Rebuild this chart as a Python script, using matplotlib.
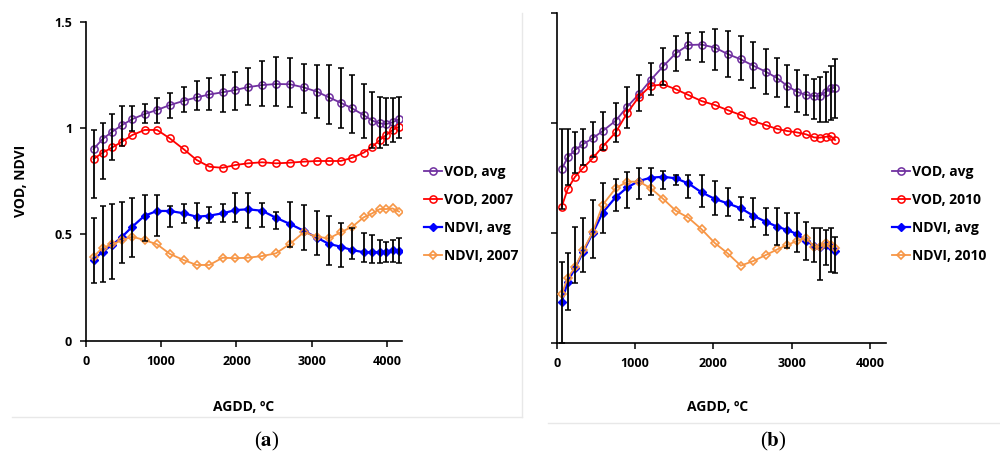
import matplotlib
matplotlib.use("Agg")
import matplotlib.pyplot as plt
import numpy as np
from matplotlib.lines import Line2D

plt.rcParams['font.family'] = ['Open Sans', 'DejaVu Sans']
plt.rcParams['mathtext.fontset'] = 'stix'

# ---------------- Panel (a) data ----------------
agdd_a = [100, 220, 350, 480, 615, 780, 945, 1115, 1300, 1470, 1640, 1815, 1985, 2150,
          2340, 2525, 2710, 2895, 3070, 3230, 3385, 3540, 3690, 3805, 3905, 3990, 4075, 4160]
vod_avg_a = [0.901, 0.948, 0.983, 1.014, 1.042, 1.066, 1.085, 1.108, 1.128, 1.144, 1.158, 1.168, 1.179, 1.192,
             1.202, 1.207, 1.206, 1.191, 1.171, 1.144, 1.119, 1.092, 1.061, 1.035, 1.022, 1.019, 1.027, 1.042]
vod_avg_a_hi = [0.99, 1.022, 1.064, 1.103, 1.103, 1.111, 1.14, 1.166, 1.191, 1.221, 1.237, 1.249, 1.262, 1.281,
                1.317, 1.335, 1.328, 1.301, 1.296, 1.296, 1.281, 1.249, 1.207, 1.171, 1.144, 1.14, 1.14, 1.147]
vod_avg_a_lo = [0.67, 0.76, 0.85, 0.915, 0.986, 1.022, 1.022, 1.046, 1.077, 1.085, 1.085, 1.077, 1.085, 1.11,
                1.105, 1.103, 1.100, 1.069, 1.045, 1.019, 0.998, 0.975, 0.951, 0.905, 0.905, 0.92, 0.933, 0.954]
vod_2007 = [0.854, 0.884, 0.909, 0.936, 0.967, 0.991, 0.991, 0.951, 0.900, 0.850, 0.818, 0.813, 0.826, 0.834,
            0.839, 0.834, 0.837, 0.842, 0.845, 0.845, 0.845, 0.860, 0.884, 0.912, 0.944, 0.967, 0.991, 1.006]
ndvi_avg_a = [0.379, 0.419, 0.450, 0.489, 0.536, 0.588, 0.610, 0.610, 0.599, 0.583, 0.588, 0.599, 0.614, 0.618,
              0.611, 0.578, 0.549, 0.517, 0.484, 0.455, 0.442, 0.426, 0.416, 0.416, 0.416, 0.419, 0.426, 0.423]
ndvi_avg_a_hi = [0.575, 0.635, 0.643, 0.654, 0.670, 0.685, 0.685, 0.635, 0.643, 0.649, 0.630, 0.643, 0.693, 0.693,
                 0.649, 0.607, 0.654, 0.638, 0.611, 0.586, 0.552, 0.528, 0.505, 0.497, 0.473, 0.465, 0.473, 0.484]
ndvi_avg_a_lo = [0.270, 0.277, 0.290, 0.364, 0.392, 0.47, 0.494, 0.536, 0.552, 0.528, 0.552, 0.557, 0.557, 0.531,
                 0.533, 0.525, 0.442, 0.426, 0.403, 0.356, 0.348, 0.384, 0.371, 0.364, 0.364, 0.371, 0.371, 0.364]
ndvi_2007 = [0.395, 0.437, 0.453, 0.473, 0.489, 0.473, 0.453, 0.408, 0.379, 0.356, 0.356, 0.390, 0.388, 0.390,
             0.398, 0.411, 0.455, 0.510, 0.489, 0.481, 0.510, 0.536, 0.580, 0.599, 0.619, 0.619, 0.622, 0.607]

# ---------------- Panel (b) data ----------------
agdd_b = [64, 140, 234, 340, 459, 587, 753, 902, 1051, 1200, 1361, 1519, 1680, 1851,
          2021, 2183, 2349, 2510, 2668, 2817, 2944, 3064, 3183, 3285, 3362, 3438, 3498, 3553]
vod_avg_b = [0.792, 0.845, 0.879, 0.906, 0.932, 0.965, 1.012, 1.076, 1.133, 1.197, 1.26, 1.318, 1.356, 1.358,
             1.344, 1.315, 1.291, 1.262, 1.235, 1.205, 1.17, 1.144, 1.129, 1.124, 1.125, 1.144, 1.159, 1.162]
vod_avg_b_hi = [0.973, 0.973, 0.962, 0.974, 1.007, 1.05, 1.091, 1.166, 1.22, 1.273, 1.344, 1.397, 1.409, 1.416,
                1.429, 1.42, 1.398, 1.371, 1.338, 1.295, 1.265, 1.242, 1.22, 1.201, 1.212, 1.232, 1.262, 1.291]
vod_avg_b_lo = [0.612, 0.72, 0.773, 0.81, 0.848, 0.879, 0.916, 0.977, 1.056, 1.129, 1.174, 1.24, 1.288, 1.28,
                1.242, 1.212, 1.197, 1.159, 1.132, 1.121, 1.075, 1.05, 1.038, 1.018, 1.005, 1.007, 1.015, 1.025]
vod_2010 = [0.621, 0.701, 0.757, 0.798, 0.841, 0.894, 0.959, 1.048, 1.121, 1.17, 1.177, 1.155, 1.129, 1.101,
            1.083, 1.06, 1.038, 1.01, 0.992, 0.974, 0.965, 0.959, 0.95, 0.936, 0.935, 0.939, 0.942, 0.924]
ndvi_avg_b = [0.186, 0.28, 0.341, 0.417, 0.50, 0.594, 0.664, 0.709, 0.738, 0.753, 0.757, 0.75, 0.727, 0.686,
              0.656, 0.636, 0.614, 0.58, 0.553, 0.53, 0.515, 0.497, 0.465, 0.444, 0.439, 0.447, 0.439, 0.421]
ndvi_avg_b_hi = [0.368, 0.409, 0.527, 0.568, 0.651, 0.727, 0.745, 0.78, 0.798, 0.798, 0.783, 0.765, 0.765, 0.765,
                 0.739, 0.705, 0.664, 0.659, 0.617, 0.617, 0.594, 0.591, 0.553, 0.523, 0.525, 0.515, 0.523, 0.485]
ndvi_avg_b_lo = [0.0, 0.151, 0.276, 0.326, 0.386, 0.50, 0.601, 0.614, 0.656, 0.674, 0.701, 0.72, 0.662, 0.621,
                 0.583, 0.58, 0.56, 0.53, 0.492, 0.447, 0.435, 0.417, 0.379, 0.371, 0.288, 0.356, 0.326, 0.318]
ndvi_2010 = [0.223, 0.298, 0.345, 0.424, 0.505, 0.629, 0.705, 0.735, 0.735, 0.705, 0.656, 0.603, 0.571, 0.518,
             0.455, 0.409, 0.353, 0.374, 0.401, 0.427, 0.447, 0.465, 0.48, 0.439, 0.439, 0.455, 0.447, 0.435]

x_ticks = [0, 1000, 2000, 3000, 4000]
y_ticks = [0, 0.5, 1, 1.5]
y_ticklabels = ["0", "0.5", "1", "1.5"]

C_PURPLE = "#7030A0"
C_RED = "#FF0000"
C_BLUE = "#0000FF"
C_ORANGE = "#F79646"

fig = plt.figure(figsize=(10, 4.57), dpi=100)
ax_a = fig.add_axes([0.086, 0.2545, 0.316, 0.698])
ax_b = fig.add_axes([0.5567, 0.2488, 0.329, 0.722])


def draw_panel(ax, x, vavg, vhi, vlo, vyr, navg, nhi, nlo, nyr, year, show_ylabels):
    x = np.asarray(x)
    vavg = np.asarray(vavg); navg = np.asarray(navg)
    kw = dict(lw=1.3, ms=5.2, mew=1.1, zorder=3)
    l1, = ax.plot(x, vavg, color=C_PURPLE, marker='o', mfc='none', mec=C_PURPLE, label='VOD, avg', **kw)
    l2, = ax.plot(x, vyr, color=C_RED, marker='o', mfc='none', mec=C_RED, label='VOD, ' + year, **kw)
    l3, = ax.plot(x, navg, color=C_BLUE, marker='D', mfc=C_BLUE, mec=C_BLUE, label='NDVI, avg',
                  lw=1.6, ms=4.4, mew=1.0, zorder=3)
    l4, = ax.plot(x, nyr, color=C_ORANGE, marker='D', mfc='none', mec=C_ORANGE, label='NDVI, ' + year,
                  lw=1.3, ms=4.4, mew=1.2, zorder=3)
    ax.errorbar(x, vavg, yerr=[vavg - np.asarray(vlo), np.asarray(vhi) - vavg], fmt='none',
                ecolor='black', elinewidth=1.3, capsize=2, capthick=1.1, zorder=4)
    ax.errorbar(x, navg, yerr=[navg - np.asarray(nlo), np.asarray(nhi) - navg], fmt='none',
                ecolor='black', elinewidth=1.3, capsize=2, capthick=1.1, zorder=4)
    ax.set_xlim(0, 4200)
    ax.set_ylim(0, 1.5)
    ax.set_xticks(x_ticks)
    ax.set_xticklabels([str(t) for t in x_ticks], fontsize=9, fontweight='bold')
    ax.set_yticks(y_ticks)
    if show_ylabels:
        ax.set_yticklabels(y_ticklabels, fontsize=9, fontweight='bold')
    else:
        ax.set_yticklabels([])
    for s in ['top', 'right']:
        ax.spines[s].set_visible(False)
    for s in ['left', 'bottom']:
        ax.spines[s].set_linewidth(1.2)
        ax.spines[s].set_color('black')
    ax.tick_params(axis='both', direction='out', length=4, width=1.1, pad=6)
    return [l1, l2, l3, l4]


handles_a = draw_panel(ax_a, agdd_a, vod_avg_a, vod_avg_a_hi, vod_avg_a_lo, vod_2007,
                       ndvi_avg_a, ndvi_avg_a_hi, ndvi_avg_a_lo, ndvi_2007, '2007', True)
handles_b = draw_panel(ax_b, agdd_b, vod_avg_b, vod_avg_b_hi, vod_avg_b_lo, vod_2010,
                       ndvi_avg_b, ndvi_avg_b_hi, ndvi_avg_b_lo, ndvi_2010, '2010', False)

ax_a.set_ylabel('VOD, NDVI', fontsize=10, fontweight='bold')
ax_a.yaxis.set_label_coords(-0.183, 0.5)

fig.text(0.244, 1 - 407 / 457, 'AGDD, ºC', ha='center', va='center', fontsize=10, fontweight='bold')
fig.text(0.718, 1 - 407 / 457, 'AGDD, ºC', ha='center', va='center', fontsize=10, fontweight='bold')

leg_kw = dict(frameon=False, handlelength=1.3, handletextpad=0.15, labelspacing=1.0,
              prop={'size': 10, 'weight': 'bold'}, borderaxespad=0, borderpad=0, loc='upper left')
fig.legend(handles=handles_a, bbox_to_anchor=(0.424, 1 - 165 / 457), **leg_kw)
fig.legend(handles=handles_b, bbox_to_anchor=(0.892, 1 - 165 / 457), **leg_kw)

# panel label
fig.text(0.267, 1 - 441 / 457, r'($\mathbf{a}$)', ha='center', va='center', fontsize=15,
         family='Liberation Serif')
fig.text(0.773, 1 - 441 / 457, r'($\mathbf{b}$)', ha='center', va='center', fontsize=15,
         family='Liberation Serif')

# light separators between panels
gc = '#e8e8e8'
fig.add_artist(Line2D([0.012, 0.522], [1 - 417 / 457, 1 - 417 / 457], color=gc, lw=1.0))
fig.add_artist(Line2D([0.522, 0.522], [1 - 417 / 457, 1 - 13 / 457], color=gc, lw=1.0))
fig.add_artist(Line2D([0.548, 1.0], [1 - 423 / 457, 1 - 423 / 457], color=gc, lw=1.0))

fig.savefig('out.png', dpi=100)
